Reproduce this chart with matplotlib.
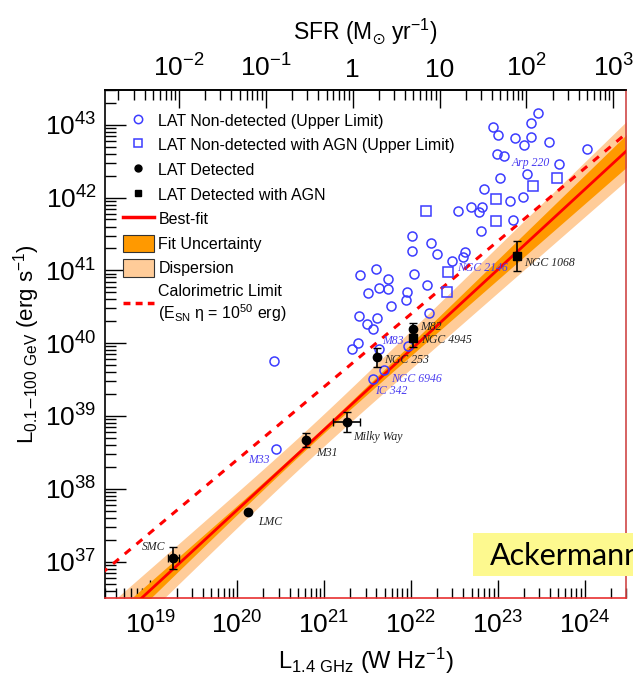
import matplotlib
matplotlib.use('Agg')
import matplotlib.pyplot as plt
import numpy as np
from matplotlib.lines import Line2D
from matplotlib.patches import Patch, Rectangle
from matplotlib.ticker import FixedLocator, LogLocator, NullFormatter, FuncFormatter

plt.rcParams['font.family'] = ['Liberation Sans', 'DejaVu Sans']
plt.rcParams['mathtext.default'] = 'regular'

# --- data (log10 L_1.4GHz [W/Hz], log10 L_0.1-100GeV [erg/s]) ---
# LAT non-detected (upper limits), circles
ul_lx = [23.469, 23.381, 22.951, 23.005, 23.385, 23.201, 23.308, 23.596, 24.027,
         22.993, 23.074, 23.711, 23.333, 23.028, 22.847, 23.289, 23.143, 22.688,
         22.817, 22.789, 22.547, 23.172, 22.805, 22.010, 22.233, 22.010, 22.305,
         22.624, 22.605, 22.471, 21.599, 21.415, 22.037, 21.737, 22.181, 21.628,
         21.741, 21.953, 21.510, 21.945, 21.766, 22.213, 21.605, 21.403, 21.495,
         21.561, 21.388, 21.319, 21.634, 21.971, 21.695, 21.561, 20.424, 20.447]
ul_ly = [43.157, 43.028, 42.965, 42.859, 42.838, 42.814, 42.722, 42.767, 42.673,
         42.598, 42.575, 42.461, 42.323, 42.275, 42.117, 42.007, 41.959, 41.870,
         41.870, 41.797, 41.819, 41.695, 41.540, 41.472, 41.371, 41.265, 41.224,
         41.248, 41.187, 41.124, 41.014, 40.936, 40.954, 40.877, 40.803, 40.753,
         40.739, 40.702, 40.684, 40.588, 40.510, 40.414, 40.352, 40.368, 40.259,
         40.190, 39.998, 39.915, 39.915, 39.965, 39.627, 39.504, 39.750, 38.542]
# LAT non-detected with AGN (upper limits), squares
ula_lx = [22.172, 22.982, 23.402, 23.688, 22.976, 22.432, 22.421]
ula_ly = [41.815, 41.976, 42.154, 42.275, 41.678, 40.977, 40.698]

# LAT detected
det_names = ['SMC', 'LMC', 'M31', 'Milky Way', 'NGC 253', 'M82']
det_lx = [19.264, 20.121, 20.793, 21.262, 21.611, 22.022]
det_ly = [37.048, 37.676, 38.669, 38.921, 39.809, 40.190]
det_yerr = [0.15, 0.0, 0.10, 0.14, 0.13, 0.09]   # dex
det_xerr = [0.06, 0.0, 0.0, 0.155, 0.0, 0.0]     # dex

# LAT detected with AGN
agn_names = ['NGC 4945', 'NGC 1068']
agn_lx = [22.022, 23.220]
agn_ly = [40.070, 41.197]
agn_yerr = [0.12, 0.21]

# labelled upper limits: name -> index in circle / square lists
ul_labels = [('Arp 220', 'c', 12), ('NGC 2146', 's', 5), ('M83', 'c', 48),
             ('NGC 6946', 'c', 50), ('IC 342', 'c', 51), ('M33', 'c', 53)]

# best fit: log Lg = fit_b + fit_a * (log L14 - 21)
fit_a = 1.10
fit_b = 38.81
fit_err0, fit_erra, fit_piv = 0.04, 0.06, 20.8
disp = 0.18
# calorimetric limit: log Lg = log L14 + cal_off
cal_off = 18.40
# SFR conversion: SFR = L14 / 10**sfr_off
sfr_off = 21.33

x_ticks = [1e19, 1e20, 1e21, 1e22, 1e23, 1e24]
y_ticks = [1e37, 1e38, 1e39, 1e40, 1e41, 1e42, 1e43]
sfr_ticks = [1e-2, 1e-1, 1, 10, 1e2, 1e3]

# --- figure ---
fig = plt.figure(figsize=(6.33, 6.77), dpi=100)
ax = fig.add_axes([105 / 633, 1 - 598 / 677, 521 / 633, 508 / 677])
ax.set_xscale('log')
ax.set_yscale('log')
ax.set_xlim(3e18, 3e24)
ax.set_ylim(10**36.5, 3e43)

lx = np.linspace(18.3, 24.7, 300)
ly = fit_b + fit_a * (lx - 21)
sig = np.sqrt(fit_err0**2 + (fit_erra * (lx - fit_piv))**2)
ax.fill_between(10**lx, 10**(ly - sig - disp), 10**(ly + sig + disp),
                color='#ffcc99', lw=0, zorder=1)
ax.fill_between(10**lx, 10**(ly - sig), 10**(ly + sig),
                color='#ff9900', lw=0, zorder=2)
ax.plot(10**lx, 10**ly, color='red', lw=2, zorder=3)
ax.plot(10**lx, 10**(lx + cal_off), color='red', lw=2.2, ls=(0, (2.5, 2.5)), zorder=3)

blue = '#3c3cff'
ax.plot(10**np.array(ul_lx), 10**np.array(ul_ly), 'o', mfc='none', mec=blue,
        ms=6.5, mew=1.1, zorder=4)
ax.plot(10**np.array(ula_lx), 10**np.array(ula_ly), 's', mfc='none', mec=blue,
        ms=7, mew=1.1, zorder=4)


def dex_err(lv, e):
    v = 10**np.array(lv)
    e = np.array(e)
    return [v - v * 10**-e, v * 10**e - v]


ax.errorbar(10**np.array(det_lx), 10**np.array(det_ly),
            yerr=dex_err(det_ly, det_yerr), xerr=dex_err(det_lx, det_xerr),
            fmt='o', color='black', ms=6, elinewidth=1.2, capsize=3, zorder=5)
ax.errorbar(10**np.array(agn_lx), 10**np.array(agn_ly),
            yerr=dex_err(agn_ly, agn_yerr),
            fmt='s', color='black', ms=6, elinewidth=1.2, capsize=3, zorder=5)

# point labels (offset in pixels: right, down)
det_off = [(-8, -11), (10, 10), (10, 12.7), (6, 15), (7, 3), (7, -2.6)]
agn_off = [(8, 2), (7, 7)]
ul_off = [(-14.8, -10.7), (9, -4.3), (2.7, -8.3), (6.4, 9), (2.3, 11.8), (-6, 10.7)]
lab_font = dict(family='Liberation Serif', style='italic', fontsize=8.5)

for name, x, y, (dx, dy) in zip(det_names, det_lx, det_ly, det_off):
    ax.annotate(name, (10**x, 10**y), xytext=(dx * 0.72, -dy * 0.72),
                textcoords='offset points', ha='right' if dx < 0 else 'left',
                va='center', color='#222222', zorder=6, **lab_font)
for name, x, y, (dx, dy) in zip(agn_names, agn_lx, agn_ly, agn_off):
    ax.annotate(name, (10**x, 10**y), xytext=(dx * 0.72, -dy * 0.72),
                textcoords='offset points', ha='left', va='center',
                color='#222222', zorder=6, **lab_font)
for (name, kind, i), (dx, dy) in zip(ul_labels, ul_off):
    x, y = (ul_lx[i], ul_ly[i]) if kind == 'c' else (ula_lx[i], ula_ly[i])
    ax.annotate(name, (10**x, 10**y), xytext=(dx * 0.72, -dy * 0.72),
                textcoords='offset points', ha='right' if name == 'M33' else 'left',
                va='center', color='#4a3cf0', zorder=6, **lab_font)

# axes styling
sub = np.arange(2, 10)
exp_fmt = FuncFormatter(lambda v, p: r'$10^{%d}$' % round(np.log10(v)))
ax.xaxis.set_major_locator(FixedLocator(x_ticks))
ax.yaxis.set_major_locator(FixedLocator(y_ticks))
for axis in (ax.xaxis, ax.yaxis):
    axis.set_minor_locator(LogLocator(base=10, subs=sub, numticks=200))
    axis.set_minor_formatter(NullFormatter())
    axis.set_major_formatter(exp_fmt)
ax.tick_params(which='both', direction='in', top=False, right=False, labelsize=19, width=1)
ax.tick_params(axis='x', which='major', length=13, pad=10)
ax.tick_params(axis='x', which='minor', length=7)
ax.tick_params(axis='y', which='major', length=15, pad=6)
ax.tick_params(axis='y', which='minor', length=8)
for s in ax.spines.values():
    s.set_linewidth(1.2)
ax.spines['bottom'].set_color('#e83030')
ax.spines['right'].set_color('#d04848')

ax.set_xlabel(r'L$_{1.4\ GHz}$ (W Hz$^{-1}$)', fontsize=17, labelpad=5)
ax.set_ylabel(r'L$_{0.1\mathrm{-}100\ GeV}$ (erg s$^{-1}$)', fontsize=16, labelpad=2)


def sfr_fmt(v, p):
    n = round(np.log10(v))
    if n == 0:
        return '1'
    if n == 1:
        return '10'
    return r'$10^{%d}$' % n


secax = ax.secondary_xaxis('top', functions=(lambda x: x / 10**sfr_off,
                                              lambda s: s * 10**sfr_off))
secax.xaxis.set_major_locator(FixedLocator(sfr_ticks))
secax.xaxis.set_minor_locator(LogLocator(base=10, subs=sub, numticks=200))
secax.xaxis.set_minor_formatter(NullFormatter())
secax.xaxis.set_major_formatter(FuncFormatter(sfr_fmt))
secax.tick_params(which='both', direction='in', labelsize=19, width=1)
secax.tick_params(which='major', length=13, pad=6)
secax.tick_params(which='minor', length=7)
secax.spines['top'].set_linewidth(1.2)
secax.set_xlabel(r'SFR (M$_{\odot}$ yr$^{-1}$)', fontsize=16.5, labelpad=11)

# legend
handles = [
    Line2D([], [], ls='none', marker='o', mfc='none', mec=blue, ms=6, mew=1.1),
    Line2D([], [], ls='none', marker='s', mfc='none', mec=blue, ms=6, mew=1.1),
    Line2D([], [], ls='none', marker='o', color='black', ms=5),
    Line2D([], [], ls='none', marker='s', color='black', ms=5),
    Line2D([], [], color='red', lw=2.5),
    Patch(facecolor='#ff9900', edgecolor='#333333', lw=0.8),
    Patch(facecolor='#ffcc99', edgecolor='#333333', lw=0.8),
    Line2D([], [], color='red', lw=2.5, ls=(0, (2, 1.5))),
]
labels = ['LAT Non-detected (Upper Limit)',
          'LAT Non-detected with AGN (Upper Limit)',
          'LAT Detected',
          'LAT Detected with AGN',
          'Best-fit',
          'Fit Uncertainty',
          'Dispersion',
          'Calorimetric Limit\n(E$_{SN}$ \u03b7 = 10$^{50}$ erg)']
leg = ax.legend(handles, labels, loc='upper left', bbox_to_anchor=(0.035, 0.957),
                frameon=False, fontsize=11.5, borderpad=0, borderaxespad=0,
                handlelength=1.9, handleheight=1.3, handletextpad=0.3,
                labelspacing=0.45)
leg.set_zorder(7)

# yellow citation box, cut off by the figure edge as in the slide
fig.patches.append(Rectangle((473 / 633, 1 - 576 / 677), 0.3, 43 / 677,
                             transform=fig.transFigure, facecolor='#fdf98f',
                             edgecolor='none', zorder=8))
fig.text(490 / 633, 1 - 556 / 677, 'Ackermann', family='Lato',
         fontsize=22, va='center', ha='left', zorder=9)

fig.savefig('out.png', dpi=100)
